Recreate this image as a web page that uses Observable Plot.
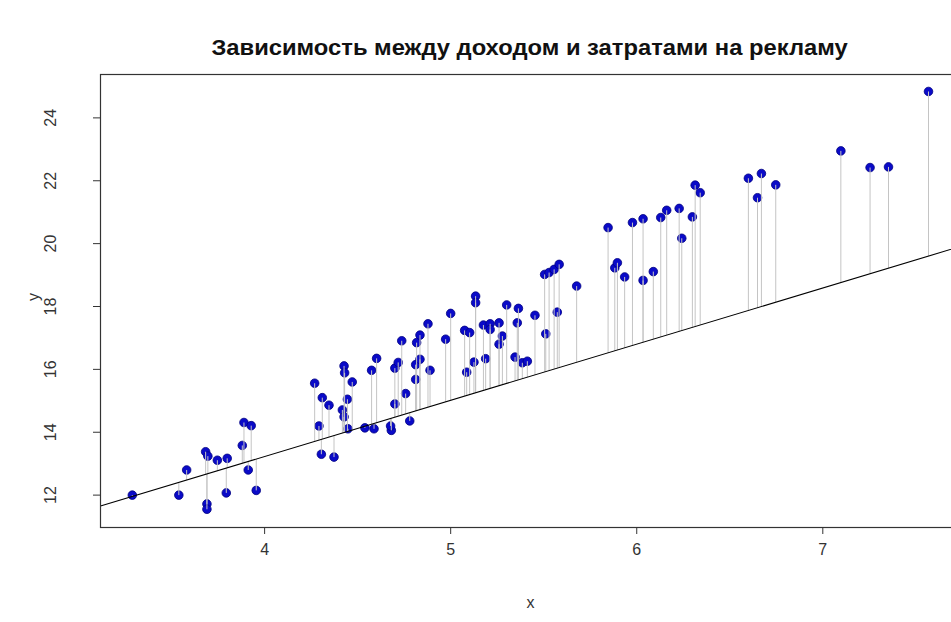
<!DOCTYPE html>
<html>
<head>
<meta charset="utf-8">
<script src="https://cdn.jsdelivr.net/npm/d3@7"></script>
<script src="https://cdn.jsdelivr.net/npm/@observablehq/plot@0.6"></script>
<style>
  html, body { margin: 0; padding: 0; background: #fff; overflow: hidden; width: 951px; height: 622px; }
  #title { width: 960px; height: 60px; box-sizing: border-box; padding-left: 100px; padding-top: 35px;
           text-align: center; font: bold 22px "Liberation Sans", Arial, sans-serif; line-height: 26px; color: #111; white-space: nowrap; }
  #title span { display: inline-block; transform: scaleX(1.08); transform-origin: center; }
  #chart svg { max-width: none !important; display: block; }
</style>
</head>
<body>
<div id="title"><span>Зависимость между доходом и затратами на рекламу</span></div>
<div id="chart"></div>
<script>
// Data
const xs = [3.289,3.539,3.581,3.683,3.695,3.690,3.690,3.746,3.799,3.794,3.880,3.889,3.928,3.912,3.955,
  4.269,4.310,4.346,4.292,4.305,4.373,4.427,4.430,4.471,4.445,4.418,4.427,4.448,4.539,4.588,4.575,4.602,
  4.681,4.677,4.700,4.700,4.718,4.737,4.758,4.780,4.812,4.812,4.817,4.835,4.835,4.878,4.889,4.973,5.000,
  5.075,5.102,5.086,5.125,5.134,5.134,5.188,5.176,5.212,5.212,5.260,5.278,5.260,5.301,5.364,5.358,5.346,
  5.385,5.412,5.453,5.511,5.505,5.529,5.556,5.583,5.573,5.677,
  5.846,5.882,5.896,5.935,5.977,6.034,6.034,6.089,6.129,6.161,6.228,6.242,6.299,6.314,6.341,
  6.600,6.649,6.670,6.747,7.097,7.254,7.353,7.568];
const ys = [12.00,12.00,12.80,13.38,13.24,11.72,11.55,13.11,13.17,12.07,13.58,14.31,14.21,12.80,12.15,
  15.56,15.10,14.86,14.20,13.30,13.21,16.11,15.89,15.60,15.05,14.71,14.49,14.11,14.14,14.11,15.97,16.35,
  14.06,14.20,14.90,16.04,16.22,16.91,15.23,14.36,16.15,15.68,16.85,17.09,16.32,17.45,15.97,16.96,17.78,
  17.24,17.17,15.91,16.23,18.33,18.12,16.34,17.41,17.45,17.27,17.48,17.06,16.80,18.05,17.94,17.48,16.39,
  16.21,16.26,17.72,17.13,19.02,19.08,19.18,19.34,17.82,18.65,
  20.51,19.23,19.39,18.94,20.67,20.79,18.83,19.11,20.83,21.06,21.12,20.17,20.85,21.86,21.62,
  22.08,21.46,22.23,21.87,22.95,22.42,22.44,24.84];
const intercept = 6.08;
const slope = 1.787;
const xTicks = [4, 5, 6, 7];
const yTicks = [12, 14, 16, 18, 20, 22, 24];
const xDomain = [3.118, 7.74];
const yDomain = [10.97, 25.38];

const points = xs.map((x, i) => ({x, y: ys[i], fit: intercept + slope * x}));
const lineData = xDomain.map(x => ({x, y: intercept + slope * x}));

const font = "'Liberation Sans', Arial, sans-serif";
const chart = Plot.plot({
  width: 960,
  height: 562,
  marginTop: 14,
  marginLeft: 100,
  marginRight: 0,
  marginBottom: 95,
  style: {fontFamily: font, fontSize: "16px", color: "#333", background: "#fff", overflow: "visible", maxWidth: "none"},
  x: {domain: xDomain},
  y: {domain: yDomain},
  marks: [
    Plot.dot(points, {x: "x", y: "y", r: 4.3, fill: "#0a0ac8", stroke: "#000080", strokeWidth: 0.8}),
    Plot.link(points, {x1: "x", y1: "y", x2: "x", y2: "fit", stroke: "#c4c4c4", strokeWidth: 1}),
    Plot.line(lineData, {x: "x", y: "y", stroke: "#000", strokeWidth: 1.1}),
    Plot.frame({stroke: "#333", strokeWidth: 1.2}),
    Plot.axisX({ticks: xTicks, tickFormat: d => String(d), tickSize: 7, tickPadding: 9, label: null, fontSize: 16, stroke: "#333"}),
    Plot.axisY({ticks: yTicks, tickFormat: d => String(d), tickSize: 7, tickPadding: 38, label: null, fontSize: 16, tickRotate: -90, stroke: "#333"}),
    Plot.text(["x"], {frameAnchor: "bottom", dy: 80, fontSize: 16, fill: "#333"}),
    Plot.text(["y"], {frameAnchor: "left", dx: -67, rotate: -90, fontSize: 16, fill: "#333"})
  ]
});
document.getElementById("chart").appendChild(chart);
</script>
</body>
</html>
